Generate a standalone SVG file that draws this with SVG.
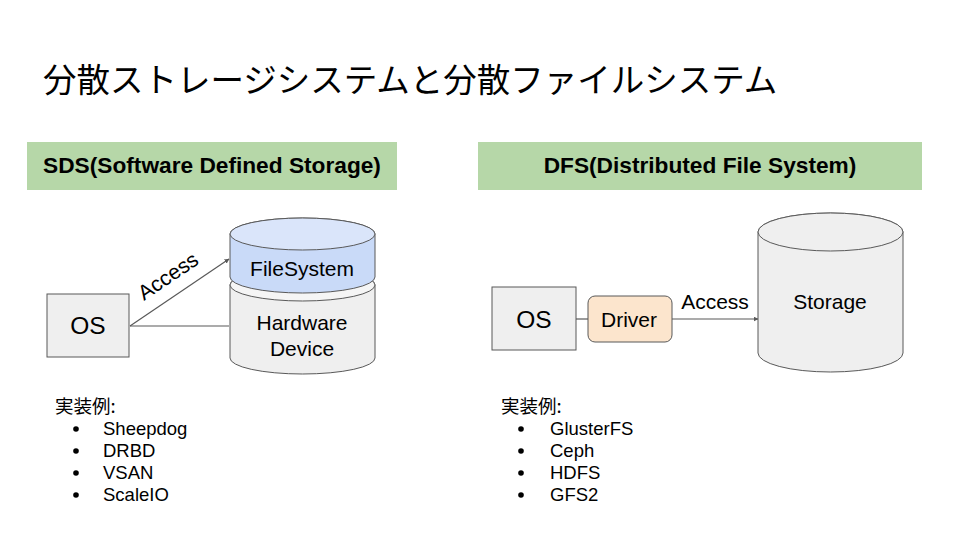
<svg xmlns="http://www.w3.org/2000/svg" width="960" height="540" viewBox="0 0 960 540">
<defs>
<marker id="arr" viewBox="0 0 10 10" refX="9" refY="5" markerWidth="5" markerHeight="5" orient="auto" markerUnits="userSpaceOnUse">
<path d="M0,0 L10,5 L0,10 z" fill="#595959"/>
</marker>
</defs>
<style>
text{font-family:"Liberation Sans",Arial,"Noto Sans CJK JP",sans-serif;fill:#000}
.jp{font-family:"Noto Sans CJK JP","Liberation Sans",sans-serif}
.hdr{font-weight:bold;font-size:22.7px;text-anchor:middle}
.lbl{font-size:21px;text-anchor:middle}
.os{font-size:24.5px;text-anchor:middle}
.lst{font-size:18.5px}
.box{fill:#efefef;stroke:#595959;stroke-width:1}
.bar{fill:#b6d7a8}
.ln{fill:none;stroke:#595959;stroke-width:1.2}
</style>
<rect width="960" height="540" fill="#ffffff"/>
<text id="title" class="jp" x="43" y="92" font-size="33.5">分散ストレージシステムと分散ファイルシステム</text>

<g id="sds-header">
<rect class="bar" x="27" y="142" width="370" height="48"/>
<text class="hdr" x="212" y="173">SDS(Software Defined Storage)</text>
</g>
<g id="dfs-header">
<rect class="bar" x="478" y="142" width="444" height="48"/>
<text class="hdr" x="700" y="173">DFS(Distributed File System)</text>
</g>

<g id="connectors">
<line class="ln" x1="130" y1="326" x2="229" y2="259" marker-end="url(#arr)"/>
<line class="ln" x1="130" y1="326" x2="229" y2="326"/>
<line class="ln" x1="576" y1="319" x2="588" y2="319"/>
<line class="ln" x1="672" y1="319" x2="758" y2="319" marker-end="url(#arr)"/>
<text class="lbl" font-size="20" transform="translate(172,282) rotate(-34)">Access</text>
<text class="lbl" font-size="20" x="715" y="309">Access</text>
</g>

<g id="sds-os">
<rect class="box" x="47" y="294" width="82" height="63"/>
<text class="os" x="88" y="334">OS</text>
</g>

<g id="hardware-device">
<path d="M230,285 L230,358 A72.5,16 0 0 0 375,358 L375,285 A72.5,16 0 0 0 230,285 z" fill="#efefef" stroke="#595959" stroke-width="1"/>
<path d="M230,285 A72.5,16 0 0 0 375,285 A72.5,16 0 0 0 230,285 z" fill="#f5f5f5" stroke="#595959" stroke-width="1"/>
<text class="lbl" x="302" y="330">Hardware</text>
<text class="lbl" x="302" y="356">Device</text>
</g>

<g id="filesystem">
<path d="M230,234 L230,277 A72.5,16 0 0 0 375,277 L375,234 A72.5,16 0 0 0 230,234 z" fill="#c9daf8" stroke="#595959" stroke-width="1"/>
<path d="M230,234 A72.5,16 0 0 0 375,234 A72.5,16 0 0 0 230,234 z" fill="#dae5fa" stroke="#595959" stroke-width="1"/>
<text class="lbl" x="302" y="276">FileSystem</text>
</g>

<g id="dfs-os">
<rect class="box" x="492" y="287" width="84" height="63"/>
<text class="os" x="534" y="328">OS</text>
</g>

<g id="driver">
<rect x="588" y="296" width="84" height="46" rx="7" fill="#fce5cd" stroke="#595959" stroke-width="1"/>
<text class="lbl" font-size="20" x="629" y="327">Driver</text>
</g>

<g id="storage">
<path d="M758,232 L758,353 A72.5,19 0 0 0 903,353 L903,232 A72.5,19 0 0 0 758,232 z" fill="#efefef" stroke="#595959" stroke-width="1"/>
<path d="M758,232 A72.5,19 0 0 0 903,232 A72.5,19 0 0 0 758,232 z" fill="#efefef" stroke="#595959" stroke-width="1"/>
<text class="lbl" x="830" y="309">Storage</text>
</g>

<g id="sds-examples">
<text class="jp lst" x="55" y="413">実装例:</text>
<circle cx="76" cy="429" r="2.8" fill="#000"/>
<circle cx="76" cy="451" r="2.8" fill="#000"/>
<circle cx="76" cy="473" r="2.8" fill="#000"/>
<circle cx="76" cy="495" r="2.8" fill="#000"/>
<text class="lst" x="103" y="435">Sheepdog</text>
<text class="lst" x="103" y="457">DRBD</text>
<text class="lst" x="103" y="479">VSAN</text>
<text class="lst" x="103" y="501">ScaleIO</text>
</g>

<g id="dfs-examples">
<text class="jp lst" x="501" y="413">実装例:</text>
<circle cx="521" cy="429" r="2.8" fill="#000"/>
<circle cx="521" cy="451" r="2.8" fill="#000"/>
<circle cx="521" cy="473" r="2.8" fill="#000"/>
<circle cx="521" cy="495" r="2.8" fill="#000"/>
<text class="lst" x="550" y="435">GlusterFS</text>
<text class="lst" x="550" y="457">Ceph</text>
<text class="lst" x="550" y="479">HDFS</text>
<text class="lst" x="550" y="501">GFS2</text>
</g>
</svg>
